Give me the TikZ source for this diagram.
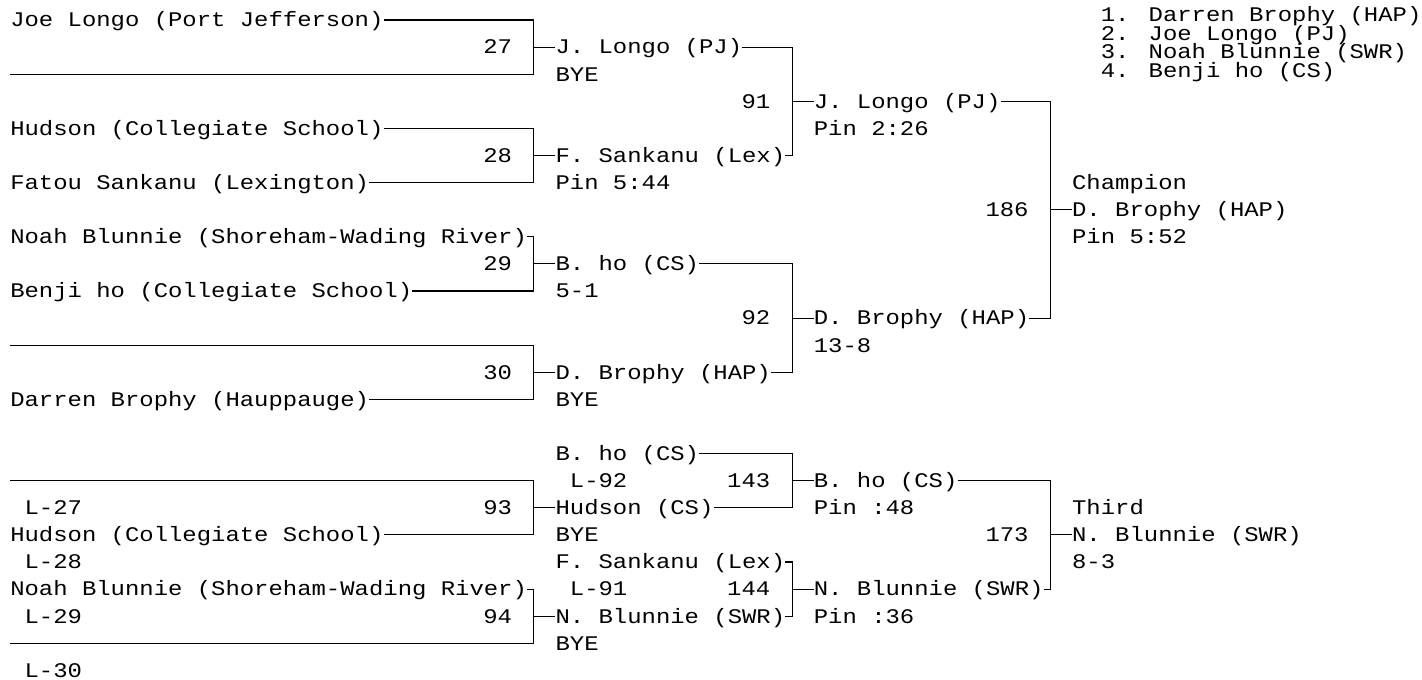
\documentclass[tikz,border=0pt]{standalone}
\usepackage{fontspec}
\usepackage{tikz}
\newfontfamily\bracketfont[FakeStretch=1.15]{Liberation Mono}

\begin{document}
\begin{tikzpicture}[
        x=10.7625pt, y=-20.325pt,
        entry/.style={anchor=west, inner sep=0pt, text height=13.3pt, text depth=3pt, font=\bracketfont\fontsize{15.6pt}{18pt}\selectfont},
        bout/.style={entry, anchor=east},
        rank/.style={entry, text height=11pt, text depth=0.7pt},
        bkt/.style={line width=0.8pt, draw=black}
    ]
        % Marco (una columna = un caracter, una fila = una linea)
        \useasboundingbox (-0.697,-0.738) rectangle (98.4,24.354);

        % Clasificacion final (arriba a la derecha)
        \node[rank] (rank_1) at (76,-0.185) {1. Darren Brophy (HAP)};
        \node[rank] (rank_2) at (76,0.498) {2. Joe Longo (PJ)};
        \node[rank] (rank_3) at (76,1.18) {3. Noah Blunnie (SWR)};
        \node[rank] (rank_4) at (76,1.86) {4. Benji ho (CS)};

        % Combate 27
        \node[entry] (a_27) at (0,0) {Joe Longo (Port Jefferson)};
        \coordinate (b_27) at (0,2);
        \coordinate (m_27) at (36.5,1);
        \node[bout] (n_27) at (35,1) {27};
        \node[entry] (w_27) at (38,1) {J. Longo (PJ)};
        \node[entry] (r_27) at (38,2) {BYE};
        \draw[bkt] (a_27.east) -| (m_27) |- (b_27);
        \draw[bkt] (m_27) -- (w_27.west);

        % Combate 28
        \node[entry] (a_28) at (0,4) {Hudson (Collegiate School)};
        \node[entry] (b_28) at (0,6) {Fatou Sankanu (Lexington)};
        \coordinate (m_28) at (36.5,5);
        \node[bout] (n_28) at (35,5) {28};
        \node[entry] (w_28) at (38,5) {F. Sankanu (Lex)};
        \node[entry] (r_28) at (38,6) {Pin 5:44};
        \draw[bkt] (a_28.east) -| (m_28) |- (b_28.east);
        \draw[bkt] (m_28) -- (w_28.west);

        % Combate 29
        \node[entry] (a_29) at (0,8) {Noah Blunnie (Shoreham-Wading River)};
        \node[entry] (b_29) at (0,10) {Benji ho (Collegiate School)};
        \coordinate (m_29) at (36.5,9);
        \node[bout] (n_29) at (35,9) {29};
        \node[entry] (w_29) at (38,9) {B. ho (CS)};
        \node[entry] (r_29) at (38,10) {5-1};
        \draw[bkt] (a_29.east) -| (m_29) |- (b_29.east);
        \draw[bkt] (m_29) -- (w_29.west);

        % Combate 30
        \coordinate (a_30) at (0,12);
        \node[entry] (b_30) at (0,14) {Darren Brophy (Hauppauge)};
        \coordinate (m_30) at (36.5,13);
        \node[bout] (n_30) at (35,13) {30};
        \node[entry] (w_30) at (38,13) {D. Brophy (HAP)};
        \node[entry] (r_30) at (38,14) {BYE};
        \draw[bkt] (a_30) -| (m_30) |- (b_30.east);
        \draw[bkt] (m_30) -- (w_30.west);

        % Semifinales 91 y 92
        \coordinate (m_91) at (54.5,3);
        \node[bout] (n_91) at (53,3) {91};
        \node[entry] (w_91) at (56,3) {J. Longo (PJ)};
        \node[entry] (r_91) at (56,4) {Pin 2:26};
        \draw[bkt] (w_27.east) -| (m_91) |- (w_28.east);
        \draw[bkt] (m_91) -- (w_91.west);

        \coordinate (m_92) at (54.5,11);
        \node[bout] (n_92) at (53,11) {92};
        \node[entry] (w_92) at (56,11) {D. Brophy (HAP)};
        \node[entry] (r_92) at (56,12) {13-8};
        \draw[bkt] (w_29.east) -| (m_92) |- (w_30.east);
        \draw[bkt] (m_92) -- (w_92.west);

        % Final 186
        \coordinate (m_186) at (72.5,7);
        \node[bout] (n_186) at (71,7) {186};
        \node[entry] (t_186) at (74,6) {Champion};
        \node[entry] (w_186) at (74,7) {D. Brophy (HAP)};
        \node[entry] (r_186) at (74,8) {Pin 5:52};
        \draw[bkt] (w_91.east) -| (m_186) |- (w_92.east);
        \draw[bkt] (m_186) -- (w_186.west);

        % Repesca: combates 93 y 94
        \coordinate (a_93) at (0,17);
        \node[entry] (l_27) at (1,18) {L-27};
        \node[entry] (b_93) at (0,19) {Hudson (Collegiate School)};
        \coordinate (m_93) at (36.5,18);
        \node[bout] (n_93) at (35,18) {93};
        \node[entry] (w_93) at (38,18) {Hudson (CS)};
        \node[entry] (r_93) at (38,19) {BYE};
        \draw[bkt] (a_93) -| (m_93) |- (b_93.east);
        \draw[bkt] (m_93) -- (w_93.west);

        \node[entry] (l_28) at (1,20) {L-28};
        \node[entry] (a_94) at (0,21) {Noah Blunnie (Shoreham-Wading River)};
        \node[entry] (l_29) at (1,22) {L-29};
        \coordinate (b_94) at (0,23);
        \node[entry] (l_30) at (1,24) {L-30};
        \coordinate (m_94) at (36.5,22);
        \node[bout] (n_94) at (35,22) {94};
        \node[entry] (w_94) at (38,22) {N. Blunnie (SWR)};
        \node[entry] (r_94) at (38,23) {BYE};
        \draw[bkt] (a_94.east) -| (m_94) |- (b_94);
        \draw[bkt] (m_94) -- (w_94.west);

        % Repesca: combates 143 y 144
        \node[entry] (a_143) at (38,16) {B. ho (CS)};
        \node[entry] (l_92) at (39,17) {L-92};
        \coordinate (m_143) at (54.5,17);
        \node[bout] (n_143) at (53,17) {143};
        \node[entry] (w_143) at (56,17) {B. ho (CS)};
        \node[entry] (r_143) at (56,18) {Pin :48};
        \draw[bkt] (a_143.east) -| (m_143) |- (w_93.east);
        \draw[bkt] (m_143) -- (w_143.west);

        \node[entry] (a_144) at (38,20) {F. Sankanu (Lex)};
        \node[entry] (l_91) at (39,21) {L-91};
        \coordinate (m_144) at (54.5,21);
        \node[bout] (n_144) at (53,21) {144};
        \node[entry] (w_144) at (56,21) {N. Blunnie (SWR)};
        \node[entry] (r_144) at (56,22) {Pin :36};
        \draw[bkt] (a_144.east) -| (m_144) |- (w_94.east);
        \draw[bkt] (m_144) -- (w_144.west);

        % Tercer puesto 173
        \coordinate (m_173) at (72.5,19);
        \node[bout] (n_173) at (71,19) {173};
        \node[entry] (t_173) at (74,18) {Third};
        \node[entry] (w_173) at (74,19) {N. Blunnie (SWR)};
        \node[entry] (r_173) at (74,20) {8-3};
        \draw[bkt] (w_143.east) -| (m_173) |- (w_144.east);
        \draw[bkt] (m_173) -- (w_173.west);
    \end{tikzpicture}
\end{document}
